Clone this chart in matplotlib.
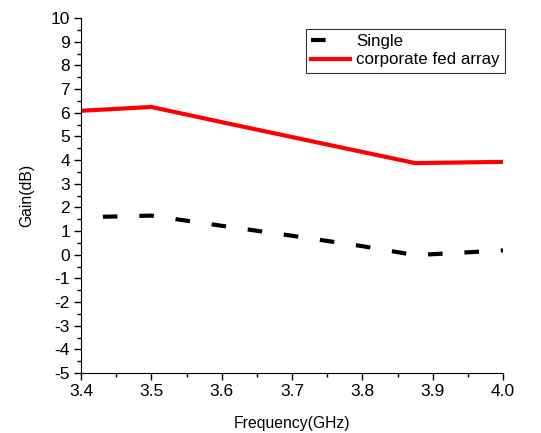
import matplotlib.pyplot as plt
from matplotlib.ticker import MultipleLocator

plt.rcParams['font.family'] = ['Liberation Sans', 'DejaVu Sans']
plt.rcParams['axes.unicode_minus'] = False

# ── Datos ─────────────────────────────────────────────────────────────────
freq_single = [3.4, 3.5, 3.6, 3.7, 3.8, 3.875, 4.0]
gain_single = [1.58, 1.65, 1.22, 0.80, 0.36, -0.02, 0.18]

freq_array = [3.4, 3.5, 3.6, 3.7, 3.8, 3.875, 4.0]
gain_array = [6.08, 6.24, 5.60, 4.97, 4.34, 3.87, 3.92]

fig = plt.figure(figsize=(5.41, 4.33), dpi=100)
ax = fig.add_axes([81/541, 60/433, 422/541, 355/433])

ax.plot(freq_single, gain_single, color='black', lw=3.0, ls=(3.5, (3.5, 5.25)),
        dash_capstyle='butt', label='Single')
ax.plot(freq_array, gain_array, color='red', lw=3.0, label='corporate fed array')

ax.set_xlim(3.4, 4.0)
ax.set_ylim(-5, 10)
ax.xaxis.set_major_locator(MultipleLocator(0.1))
ax.xaxis.set_minor_locator(MultipleLocator(0.05))
ax.yaxis.set_major_locator(MultipleLocator(1))
ax.yaxis.set_minor_locator(MultipleLocator(0.5))
ax.xaxis.set_major_formatter(plt.FormatStrFormatter('%.1f'))
ax.tick_params(which='major', direction='out', length=5, width=1, labelsize=12.5, pad=3)
ax.tick_params(which='minor', direction='out', length=3, width=1)

ax.spines['top'].set_visible(False)
ax.spines['right'].set_visible(False)

ax.set_xlabel('Frequency(GHz)', fontsize=11.3, labelpad=12)
ax.set_ylabel('Gain(dB)', fontsize=11.3, labelpad=12)

leg = ax.legend(loc='upper right', bbox_to_anchor=(1.005, 0.97), fontsize=12.2,
                frameon=True, fancybox=False, edgecolor='black',
                handlelength=2.3, borderpad=0.3, labelspacing=0.22, handletextpad=0.4,
                borderaxespad=0)
leg.get_frame().set_linewidth(0.8)
leg.get_lines()[0].set_linestyle((0, (3.5, 20)))

plt.savefig('out.png', dpi=100)
